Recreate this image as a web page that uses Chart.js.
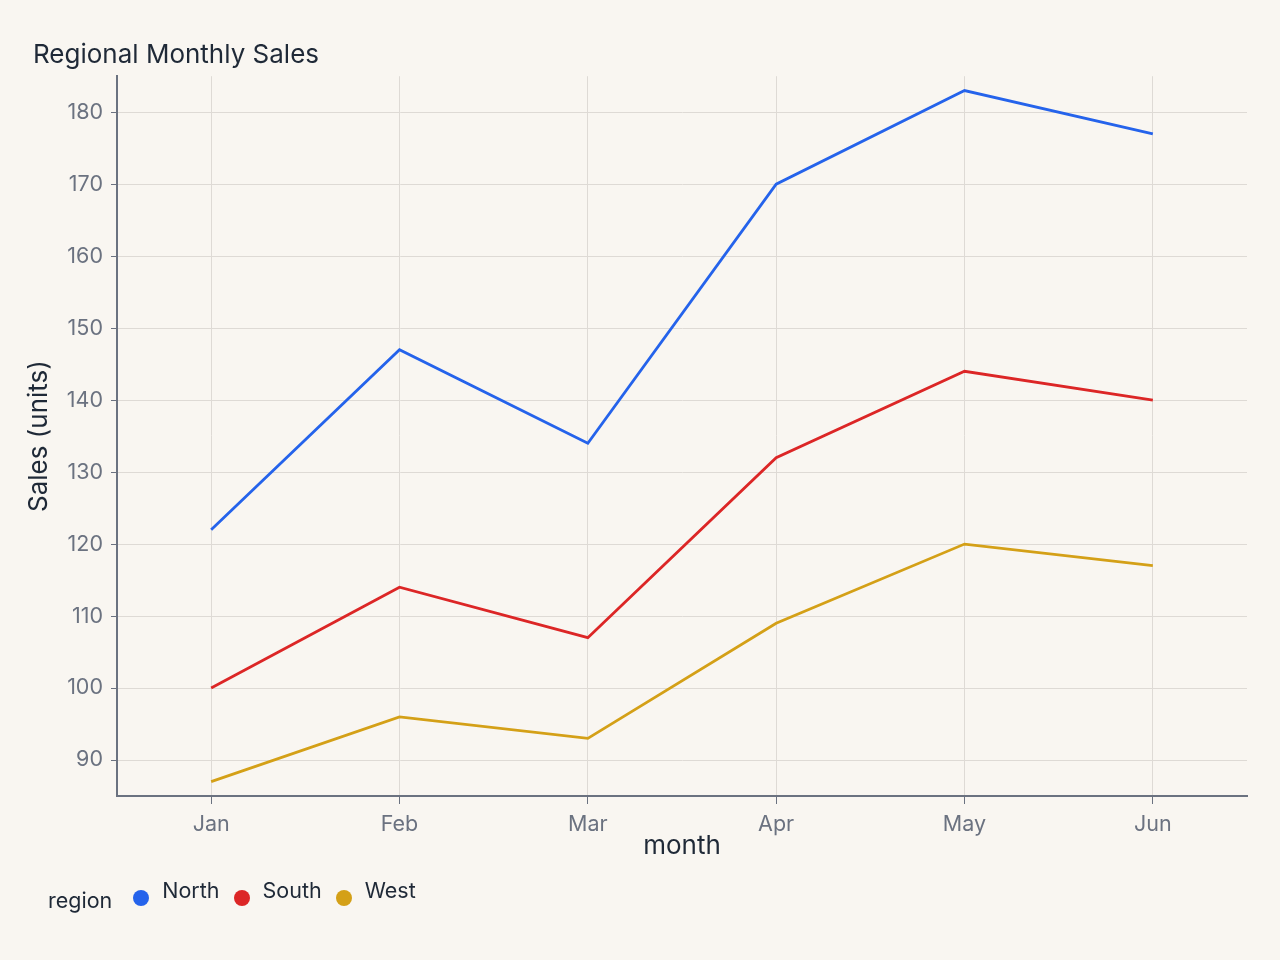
<!DOCTYPE html>
<html>
<head>
<meta charset="utf-8">
<script src="https://cdn.jsdelivr.net/npm/chart.js@4/dist/chart.umd.min.js"></script>
<style>
  html, body { margin: 0; padding: 0; background: #f9f6f1; }
  #wrap { position: relative; width: 1280px; height: 960px; }
  #legend {
    position: absolute; left: 48px; top: 877px;
    font-family: Inter, sans-serif; font-size: 21.5px; color: #1f2937;
    display: flex; align-items: flex-start;
  }
  #legend .ttl { margin-top: 10px; margin-right: 21px; }
  #legend .item { display: flex; align-items: flex-start; margin-right: 14px; }
  #legend .dot { width: 16px; height: 16px; border-radius: 50%; margin-top: 13px; margin-right: 13px; }
</style>
</head>
<body>
<div id="wrap">
  <canvas id="salesChart" width="1280" height="960"></canvas>
  <div id="legend"></div>
</div>
<script>
const months = ["Jan", "Feb", "Mar", "Apr", "May", "Jun"];
const north = [122, 147, 134, 170, 183, 177];
const south = [100, 114, 107, 132, 144, 140];
const west = [87, 96, 93, 109, 120, 117];
const yTicks = [90, 100, 110, 120, 130, 140, 150, 160, 170, 180];

const axisColor = "#6b7280";
const gridColor = "#dedad5";

Chart.defaults.font.family = "Inter, sans-serif";

const datasets = [
  { label: "North", data: north, borderColor: "#2563eb", backgroundColor: "#2563eb" },
  { label: "South", data: south, borderColor: "#dc2626", backgroundColor: "#dc2626" },
  { label: "West", data: west, borderColor: "#d4a017", backgroundColor: "#d4a017" },
];

const ctx = document.getElementById("salesChart");
new Chart(ctx, {
  type: "line",
  data: {
    labels: months,
    datasets: datasets.map(d => ({ ...d, borderWidth: 2.8, pointRadius: 0, tension: 0 })),
  },
  options: {
    responsive: false,
    animation: false,
    layout: { padding: { left: 33, right: 33, top: 40, bottom: 94 } },
    plugins: {
      legend: { display: false },
      tooltip: { enabled: false },
      title: {
        display: true,
        text: "Regional Monthly Sales",
        align: "start",
        color: "#1f2937",
        font: { size: 26, weight: "normal" },
        padding: { top: 0, bottom: 5 },
      },
    },
    scales: {
      x: {
        offset: true,
        grid: { offset: false, color: gridColor, tickColor: axisColor, tickLength: 8 },
        border: { color: axisColor, width: 2 },
        ticks: { color: axisColor, font: { size: 21.5 }, padding: 8 },
        title: { display: true, text: "month", color: "#1f2937", font: { size: 26 }, padding: { top: -15 } },
      },
      y: {
        min: 85,
        max: 185,
        afterBuildTicks: scale => { scale.ticks = yTicks.map(v => ({ value: v })); },
        afterFit: scale => { scale.width = 84; },
        grid: { color: gridColor, tickColor: axisColor, tickLength: 6 },
        border: { color: axisColor, width: 2 },
        ticks: { color: axisColor, font: { size: 21.5 }, padding: 8 },
        title: { display: true, text: "Sales (units)", color: "#1f2937", font: { size: 26 }, padding: { top: -9, bottom: 0 } },
      },
    },
  },
});

const legend = document.getElementById("legend");
legend.innerHTML = '<span class="ttl">region</span>' + datasets.map(d =>
  '<span class="item"><span class="dot" style="background:' + d.borderColor + '"></span><span>' + d.label + '</span></span>'
).join("");
</script>
</body>
</html>
